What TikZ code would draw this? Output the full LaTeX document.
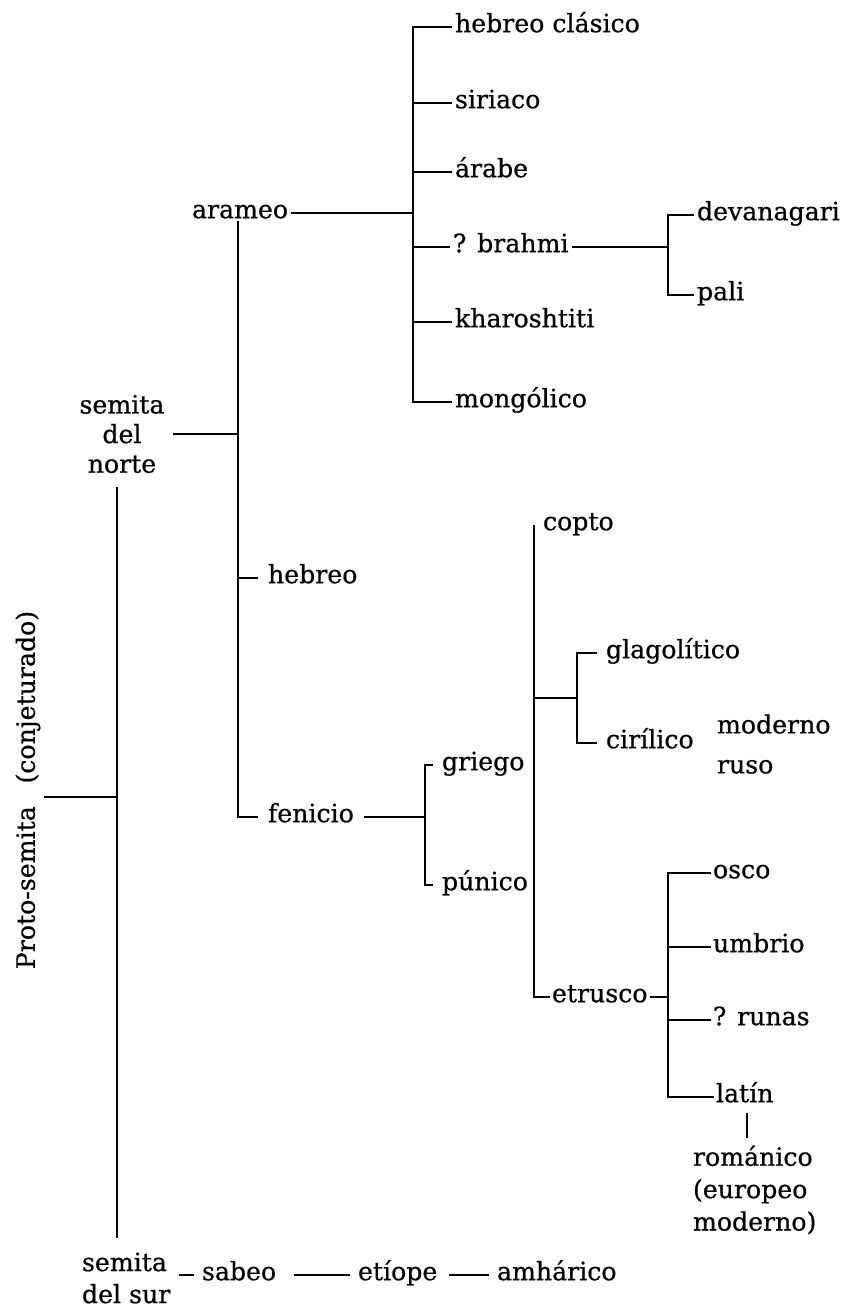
\documentclass[tikz,border=0pt]{standalone}
\usepackage{fontspec}
\setmainfont[FakeBold=0.6]{DejaVu Serif}
\newcommand\dfont{\fontsize{12.6}{15}\selectfont}
\begin{document}
\begin{tikzpicture}[x=0.5pt,y=-0.5pt,
  lbl/.style={anchor=mid west, inner xsep=1.5pt, inner ysep=1pt, outer sep=0pt, font=\dfont},
  multi/.style={inner sep=0pt, outer sep=0pt},
  ln/.style={line width=1.4pt, line join=miter}]
\useasboundingbox (0,0) rectangle (842,1311);

% ---- nodes ----
\node[multi, rotate=90, inner sep=2pt, font=\dfont] (proto) at (28,790) {Proto-semita\hspace{0.9em}(conjeturado)};
\node[multi, align=center, inner xsep=4.5pt, font=\fontsize{12.6}{14.8}\selectfont] (snorte) at (122,434) {semita\\del\\norte};
\node[multi, align=left, anchor=west, inner xsep=4.5pt, font=\fontsize{12.6}{16}\selectfont] (ssur) at (73,1278) {semita\\del sur};

\node[lbl] (arameo) at (189,213) {arameo};
\node[lbl] (hc)  at (452,27)  {hebreo clásico};
\node[lbl] (sir) at (452,103) {siriaco};
\node[lbl] (arb) at (452,172) {árabe};
\node[lbl] (bra) at (450,247) {? brahmi};
\node[lbl] (kha) at (452,322) {kharoshtiti};
\node[lbl] (mon) at (452,402) {mongólico};
\node[lbl] (dev) at (694,215) {devanagari};
\node[lbl] (pali) at (694,295) {pali};

\node[lbl, inner xsep=5pt] (heb) at (258,578) {hebreo};
\node[lbl, inner xsep=5pt] (fen) at (258,817) {fenicio};
\node[lbl, inner xsep=4.5pt] (gri) at (433,765) {griego};
\node[lbl, inner xsep=4.5pt] (pun) at (433,885) {púnico};
\node[lbl, inner xsep=3pt] (cop) at (537,525) {copto};
\node[lbl, inner xsep=4.5pt] (gla) at (597,653) {glagolítico};
\node[lbl, inner xsep=4.5pt] (cir) at (597,743) {cirílico};
\node[multi, align=left, anchor=west, inner xsep=1.5pt, font=\fontsize{12.6}{20}\selectfont] (mru) at (714,744) {moderno\\ruso};
\node[lbl, inner xsep=1pt] (etr) at (550,997) {etrusco};
\node[lbl, inner xsep=1pt] (osc) at (711,873) {osco};
\node[lbl, inner xsep=1pt] (umb) at (711,947) {umbrio};
\node[lbl, inner xsep=1pt] (run) at (711,1020) {? runas};
\node[lbl, inner xsep=1pt] (lat) at (714,1097) {latín};
\node[multi, align=left, anchor=west, inner xsep=0pt, font=\fontsize{12.6}{16.2}\selectfont] (rom) at (693,1190) {románico\\(europeo\\moderno)};

\node[lbl, inner xsep=4pt] (sab) at (194,1275) {sabeo};
\node[lbl, inner xsep=4pt] (eti) at (350,1275) {etíope};
\node[lbl, inner xsep=4pt] (amh) at (489,1275) {amhárico};

% ---- junctions ----
\coordinate (pj) at (117,797);
\coordinate (ptop) at (117,487);
\coordinate (pbot) at (117,1238);
\coordinate (nj) at (238,434);
\coordinate (aj) at (413,213);
\coordinate (bj) at (668,247);
\coordinate (fj) at (425,817);
\coordinate (gj) at (534,765);
\coordinate (cj) at (577,698);
\coordinate (ej) at (668,997);

% ---- connectors ----
% proto-semita
\draw[ln] (proto.south |- pj) -- (pj);
\draw[ln] (ptop) -- (pbot);
% semita del norte
\draw[ln] (snorte.east |- nj) -- (nj);
\draw[ln] (arameo.south -| nj) -- (nj |- fen.mid west) -- (fen.mid west);
\draw[ln] (nj |- heb.mid west) -- (heb.mid west);
% arameo
\draw[ln] (arameo.mid east) -- (aj);
\draw[ln] (hc.mid west) -- (hc.mid west -| aj) -- (mon.mid west -| aj) -- (mon.mid west);
\foreach \n in {sir,arb,bra,kha} \draw[ln] (\n.mid west -| aj) -- (\n.mid west);
% brahmi
\draw[ln] (bra.mid east) -- (bj);
\draw[ln] (dev.mid west) -- (dev.mid west -| bj) -- (pali.mid west -| bj) -- (pali.mid west);
% fenicio
\draw[ln] (fen.mid east) -- (fj);
\draw[ln] (gri.mid west) -- (gri.mid west -| fj) -- (pun.mid west -| fj) -- (pun.mid west);
% griego
\draw[ln] (gri.mid east) -- (gj);
\draw[ln] (cop.mid west -| gj) -- (etr.mid west -| gj) -- (etr.mid west);
\draw[ln] (gj |- cj) -- (cj);
\draw[ln] (gla.mid west) -- (gla.mid west -| cj) -- (cir.mid west -| cj) -- (cir.mid west);
% etrusco
\draw[ln] (etr.mid east) -- (ej);
\draw[ln] (osc.mid west) -- (osc.mid west -| ej) -- (lat.mid west -| ej) -- (lat.mid west);
\foreach \n in {umb,run} \draw[ln] (\n.mid west -| ej) -- (\n.mid west);
% latin -> romanico
\draw[ln, shorten <=4pt, shorten >=4pt] (lat.south -| 747,0) -- (rom.north -| 747,0);
% semita del sur
\draw[ln] (ssur.east |- sab.mid west) -- (sab.mid west);
\draw[ln, shorten <=5pt] (sab.mid east) -- (eti.mid west);
\draw[ln, shorten <=2pt] (eti.mid east) -- (amh.mid west);
\end{tikzpicture}
\end{document}
